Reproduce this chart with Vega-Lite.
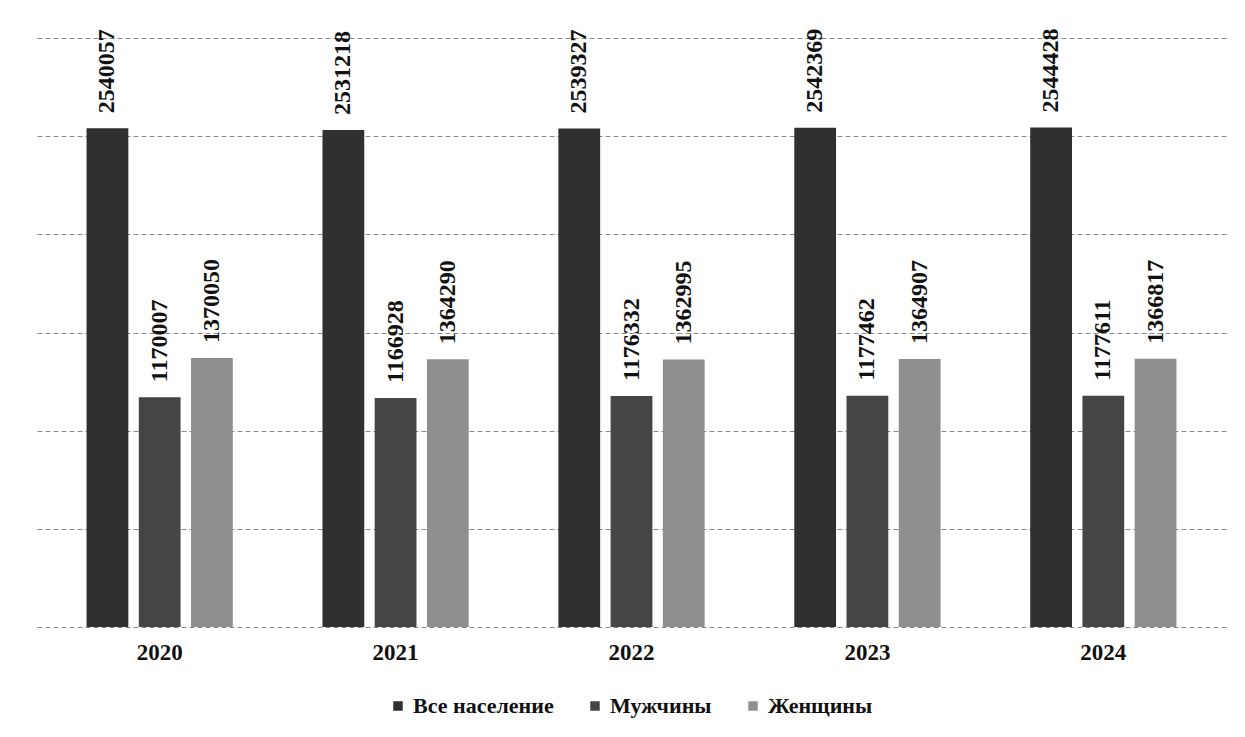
{
  "$schema": "https://vega.github.io/schema/vega-lite/v6.json",
  "autosize": {"type": "none"},
  "width": 1189,
  "height": 589,
  "padding": {"left": 37, "top": 38, "right": 19, "bottom": 110},
  "background": "white",
  "config": {
    "view": {"stroke": null},
    "font": "Times New Roman, Liberation Serif, serif"
  },
  "data": {
    "values": [
      {"year": "2020", "group": "Все население", "value": 2540057},
      {"year": "2020", "group": "Мужчины", "value": 1170007},
      {"year": "2020", "group": "Женщины", "value": 1370050},
      {"year": "2021", "group": "Все население", "value": 2531218},
      {"year": "2021", "group": "Мужчины", "value": 1166928},
      {"year": "2021", "group": "Женщины", "value": 1364290},
      {"year": "2022", "group": "Все население", "value": 2539327},
      {"year": "2022", "group": "Мужчины", "value": 1176332},
      {"year": "2022", "group": "Женщины", "value": 1362995},
      {"year": "2023", "group": "Все население", "value": 2542369},
      {"year": "2023", "group": "Мужчины", "value": 1177462},
      {"year": "2023", "group": "Женщины", "value": 1364907},
      {"year": "2024", "group": "Все население", "value": 2544428},
      {"year": "2024", "group": "Мужчины", "value": 1177611},
      {"year": "2024", "group": "Женщины", "value": 1366817}
    ]
  },
  "encoding": {
    "x": {
      "field": "year", "type": "nominal",
      "scale": {"paddingInner": 0.38, "paddingOuter": 0.21},
      "axis": {
        "title": null, "domain": false, "ticks": false, "labelAngle": 0,
        "labelFont": "Times New Roman, Liberation Serif, serif", "labelFontWeight": "bold", "labelFontSize": 23,
        "labelColor": "#111", "labelPadding": 14
      }
    },
    "xOffset": {
      "field": "group", "type": "nominal",
      "sort": ["Все население", "Мужчины", "Женщины"],
      "scale": {"paddingInner": 0.2, "paddingOuter": 0}
    },
    "y": {
      "field": "value", "type": "quantitative",
      "scale": {"domain": [0, 3000000], "nice": false},
      "axis": {
        "title": null, "labels": false, "ticks": false, "domain": false,
        "values": [0, 500000, 1000000, 1500000, 2000000, 2500000, 3000000],
        "grid": true, "gridColor": "#8a8a8a", "gridDash": [5, 3], "gridWidth": 1
      }
    }
  },
  "layer": [
    {
      "mark": {"type": "bar"},
      "encoding": {
        "color": {
          "field": "group", "type": "nominal",
          "sort": ["Все население", "Мужчины", "Женщины"],
          "scale": {"domain": ["Все население", "Мужчины", "Женщины"], "range": ["#303030", "#454545", "#8f8f8f"]},
          "legend": {
            "title": null, "orient": "none", "direction": "horizontal",
            "legendX": 350, "legendY": 657,
            "symbolType": "square", "symbolSize": 90, "symbolStrokeWidth": 0,
            "labelFont": "Times New Roman, Liberation Serif, serif", "labelFontWeight": "bold", "labelFontSize": 22,
            "labelColor": "#111", "labelOffset": 4, "columnPadding": 30, "labelLimit": 300
          }
        }
      }
    },
    {
      "mark": {
        "type": "text", "angle": -90, "align": "left", "baseline": "middle",
        "dx": 15, "font": "Times New Roman, Liberation Serif, serif", "fontWeight": "bold", "fontSize": 24, "color": "#111"
      },
      "encoding": {
        "text": {"field": "value", "type": "quantitative", "format": "d"}
      }
    }
  ]
}
